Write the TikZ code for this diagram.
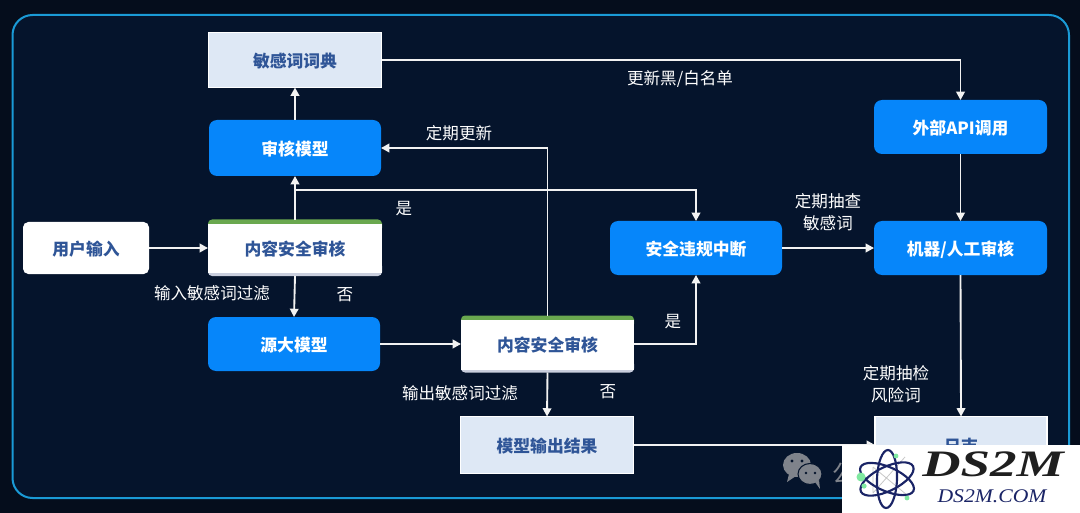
\documentclass[tikz,border=0pt]{standalone}
\usepackage{fontspec}
\usepackage{graphicx}
\newfontfamily\cjk{Noto Sans CJK SC}
\newfontfamily\logofont{Liberation Serif}
\usetikzlibrary{arrows.meta}
\definecolor{outerbg}{HTML}{050D1C}
\definecolor{innerbg}{HTML}{05142C}
\definecolor{framec}{HTML}{1A9AD6}
\definecolor{bluebox}{HTML}{0686FA}
\definecolor{palebox}{HTML}{DEE8F5}
\definecolor{inkblue}{HTML}{2F5597}
\definecolor{greenbar}{HTML}{6AA84F}
\definecolor{greybar}{HTML}{C9CEDD}
\definecolor{navy}{HTML}{1A2466}
\definecolor{dotgreen}{HTML}{7FE8A0}
\definecolor{wechat}{HTML}{7F838B}
\tikzset{
  x=0.75pt,y=-0.75pt,
  every node/.style={font=\cjk\fontsize{12.4}{15}\selectfont,inner sep=0pt,outer sep=0pt},
  boxsize/.style 2 args={minimum width={#1*0.75pt},minimum height={#2*0.75pt}},
  boxfont/.style={font=\cjk\bfseries\fontsize{12.6}{15}\selectfont,text height=12.2pt,text depth=1.5pt,anchor=center},
  bluenode/.style={fill=bluebox,rounded corners=6pt,text=white,boxfont},
  palenode/.style={fill=palebox,draw=white,line width=1.4pt,text=inkblue,boxfont},
  whitenode/.style={fill=white,rounded corners=4pt,text=inkblue,boxfont},
  checknode/.style={text=inkblue,boxfont},
  lab/.style={text=white,align=center},
  link/.style={draw=white!95!black,line width=1.4pt,-{Triangle[length=6.2pt,width=6.4pt]}},
  orbit/.style={navy,line width=1.6pt},
}
\begin{document}
\begin{tikzpicture}
\useasboundingbox (0,0) rectangle (1080,513);
\fill[outerbg] (0,0) rectangle (1080,513);
\draw[framec,line width=1.5pt,fill=innerbg,rounded corners=15pt] (12.5,15) rectangle (1069,498);

% boxes
\node[palenode,boxsize={173}{55}] (dict) at (295,60) {敏感词词典};
\node[bluenode,boxsize={172}{56}] (audit) at (295,148) {审核模型};
\node[whitenode,boxsize={126}{52}] (user) at (86,248) {用户输入};

\fill[greybar,rounded corners=3pt] (208,262) rectangle (382,276);
\fill[greenbar,rounded corners=3pt] (208,219.5) rectangle (382,232);
\fill[white] (208,224) rectangle (382,273);
\node[checknode,boxsize={174}{56}] (checkA) at (295,248) {内容安全审核};

\node[bluenode,boxsize={172}{54}] (source) at (294,344) {源大模型};

\fill[greybar,rounded corners=3pt] (461,360) rectangle (634,372.5);
\fill[greenbar,rounded corners=3pt] (461,315.5) rectangle (634,328);
\fill[white] (461,320) rectangle (634,370);
\node[checknode,boxsize={173}{57}] (checkB) at (547.5,344) {内容安全审核};

\node[palenode,boxsize={173}{57}] (result) at (547,445) {模型输出结果};
\node[bluenode,boxsize={172}{54}] (stop) at (696,248) {安全违规中断};
\node[bluenode,boxsize={173}{54}] (api) at (960.5,127) {外部API调用};
\node[bluenode,boxsize={173}{54}] (human) at (960.5,248) {机器/人工审核};
\node[palenode,boxsize={172}{57}] (log) at (961,445) {日志};

% connectors
\coordinate (branch) at (295,190);
\draw[link] (audit.north) -- (dict.south);
\draw[link] (checkA.north) -- (audit.south);
\draw[link] (branch) -| (stop.north);
\draw[link] (user.east) -- (checkA.west);
\draw[link] (checkA.south) -- (source.north);
\draw[link] (source.east) -- (checkB.west |- source.east);
\draw[link] (checkB.south) -- (result.north);
\draw[link] (checkB.north) |- (audit.east);
\draw[link] (checkB.east) -| (stop.south);
\draw[link] (stop.east) -- (human.west);
\draw[link] (dict.east) -| (api.north);
\draw[link] (api.south) -- (human.north);
\draw[link] (human.south) -- (log.north);
\draw[link] (result.east) -- (log.west);

% labels
\node[lab] (l1) at (680,79) {更新黑/白名单};
\node[lab] (l2) at (459,133) {定期更新};
\node[lab] (l3) at (404,209) {是};
\node[lab,font=\cjk\fontsize{12.4}{16.5}\selectfont] (l4) at (828,212) {定期抽查\\敏感词};
\node[lab] (l5) at (212,293) {输入敏感词过滤};
\node[lab] (l6) at (345,295) {否};
\node[lab] (l7) at (673,322) {是};
\node[lab] (l8) at (460,393) {输出敏感词过滤};
\node[lab] (l9) at (608,392) {否};
\node[lab,font=\cjk\fontsize{12.4}{16.5}\selectfont] (l10) at (896,384) {定期抽检\\风险词};

% watermark
\fill[wechat] (797,465) ellipse (14 and 12);
\fill[wechat] (789,474) -- (787,482) -- (796,476) -- cycle;
\fill[wechat,draw=innerbg,line width=0.8pt] (810,474) ellipse (12 and 10.5);
\fill[wechat] (815,482) -- (820,489) -- (819,480) -- cycle;
\fill[innerbg] (792,461) circle (1.6) (802,461) circle (1.6) (806,473) circle (1.4) (815,473) circle (1.4);
\node[text=wechat,font=\cjk\fontsize{18}{20}\selectfont] (wm) at (844,474) {公};

% logo patch
\fill[white] (842,445) rectangle (1080,513);
\begin{scope}[shift={(887,479)}]
  \draw[black!22,line width=0.6pt] (-14,-12) -- (20,16) (-14,14) -- (18,-22) (-14,-12) -- (-14,14);
  \draw[orbit,rotate=88] (0,0) ellipse (29 and 10);
  \draw[orbit,rotate=-24] (0,0) ellipse (29 and 12);
  \draw[orbit,rotate=26] (0,0) ellipse (29 and 12);
\end{scope}
\fill[dotgreen] (861,477) circle (4.5);
\fill[dotgreen] (864,486) circle (2.6);
\fill[dotgreen] (896,456) circle (2.4);
\fill[dotgreen] (907,498) circle (2.4);
\node[font=\logofont\bfseries\itshape\fontsize{28}{30}\selectfont,text=black!88] (brand) at (993,464) {\scalebox{1.42}[1]{DS2M}};
\node[font=\logofont\itshape\fontsize{14.5}{16}\selectfont,text=navy] (brandurl) at (992,496) {\scalebox{1.12}[1]{DS2M.COM}};
\end{tikzpicture}
\end{document}
